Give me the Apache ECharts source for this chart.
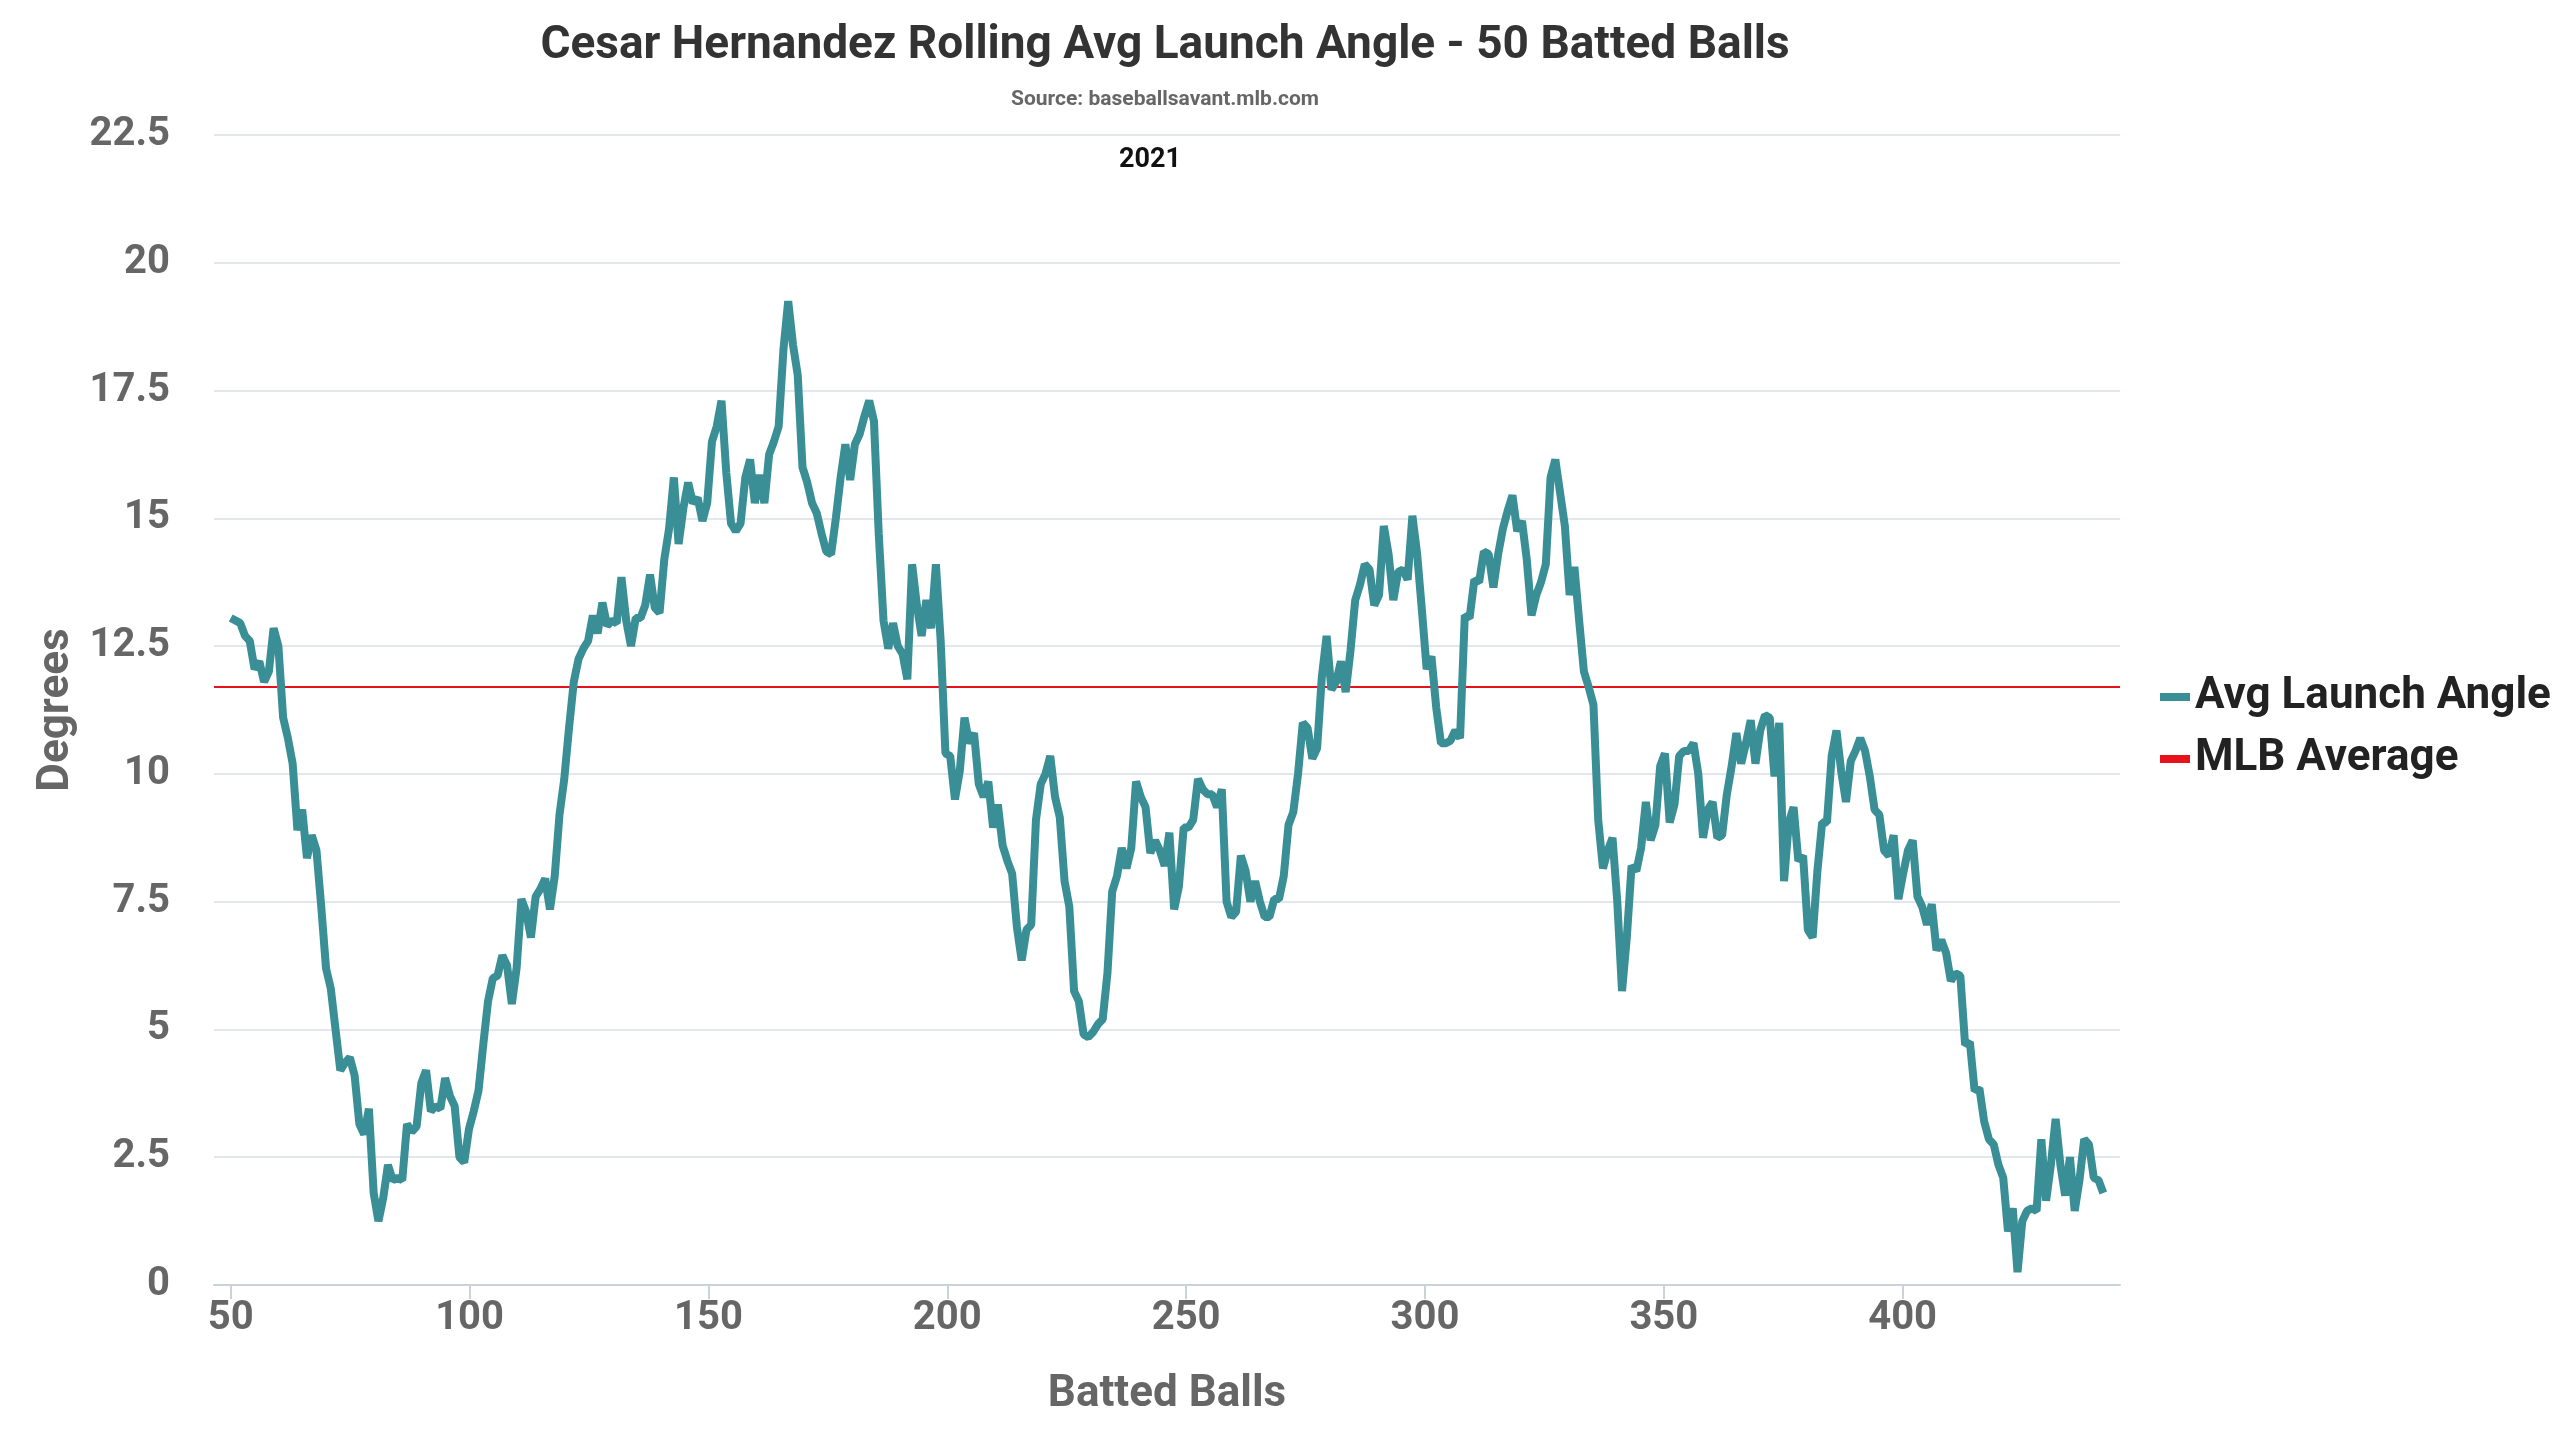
<!DOCTYPE html>
<html><head><meta charset="utf-8">
<script src="https://cdn.jsdelivr.net/npm/echarts@6/dist/echarts.min.js"></script>
<style>html,body{margin:0;padding:0;background:#fff}#c{width:2560px;height:1440px}</style>
</head><body><div id="c"></div>
<script>
const startBall = 50;
const avgLaunchAngle = [
13.05,13.0,12.95,12.7,12.6,12.05,12.2,11.8,12.0,12.85,12.5,11.1,10.7,10.2,8.9,9.3,8.35,8.8,8.5,7.4,
6.2,5.8,5.0,4.2,4.35,4.45,4.1,3.15,2.95,3.45,1.8,1.25,1.7,2.35,2.05,2.1,2.05,3.15,3.0,3.1,
3.95,4.2,3.4,3.5,3.45,4.05,3.7,3.5,2.5,2.4,3.05,3.4,3.8,4.7,5.55,6.0,6.05,6.45,6.25,5.5,
6.2,7.55,7.3,6.8,7.6,7.75,7.95,7.35,8.0,9.2,9.9,10.9,11.8,12.25,12.45,12.6,13.1,12.75,13.35,12.9,
13.0,12.95,13.85,13.0,12.5,13.05,13.05,13.3,13.9,13.25,13.15,14.2,14.8,15.8,14.5,15.2,15.7,15.3,15.4,14.95,
15.3,16.5,16.8,17.3,15.9,14.9,14.75,14.9,15.8,16.15,15.3,15.85,15.3,16.25,16.5,16.8,18.3,19.25,18.4,17.8,
16.0,15.7,15.3,15.1,14.7,14.35,14.3,15.0,15.8,16.45,15.75,16.45,16.65,17.0,17.3,16.9,14.7,13.0,12.45,12.95,
12.5,12.35,11.85,14.1,13.3,12.7,13.4,12.85,14.1,12.6,10.4,10.35,9.5,10.05,11.1,10.6,10.8,9.8,9.55,9.85,
8.95,9.4,8.6,8.3,8.05,7.0,6.35,6.95,7.05,9.1,9.8,10.0,10.35,9.55,9.15,7.9,7.4,5.75,5.55,4.9,
4.85,4.95,5.1,5.2,6.1,7.7,8.0,8.55,8.15,8.55,9.85,9.55,9.35,8.45,8.7,8.5,8.2,8.85,7.35,7.8,
8.95,8.95,9.1,9.9,9.7,9.6,9.6,9.35,9.7,7.5,7.2,7.3,8.4,8.1,7.5,7.9,7.5,7.2,7.2,7.55,
7.55,8.0,9.0,9.25,10.0,11.0,10.9,10.3,10.5,11.9,12.7,11.65,11.8,12.2,11.6,12.4,13.4,13.7,14.1,14.0,
13.3,13.5,14.85,14.3,13.4,13.95,14.0,13.8,15.05,14.3,13.2,12.05,12.3,11.3,10.6,10.6,10.65,10.85,10.7,13.1,
13.05,13.8,13.75,14.35,14.3,13.65,14.3,14.8,15.15,15.45,14.75,14.95,14.2,13.1,13.5,13.75,14.1,15.8,16.15,15.5,
14.85,13.5,14.05,13.0,12.0,11.7,11.35,9.1,8.15,8.5,8.75,7.5,5.75,6.8,8.2,8.1,8.55,9.45,8.7,9.0,
10.15,10.4,9.05,9.4,10.35,10.45,10.45,10.6,10.0,8.75,9.3,9.45,8.75,8.8,9.6,10.15,10.8,10.2,10.6,11.05,
10.2,10.85,11.15,11.1,9.95,11.0,7.9,9.05,9.35,8.3,8.4,6.95,6.8,8.1,9.05,9.05,10.35,10.85,10.05,9.45,
10.25,10.45,10.7,10.45,9.95,9.3,9.2,8.5,8.4,8.8,7.55,8.05,8.5,8.7,7.6,7.4,7.05,7.45,6.55,6.75,
6.5,5.95,6.1,6.05,4.7,4.75,3.8,3.85,3.2,2.85,2.75,2.35,2.1,1.05,1.5,0.25,1.25,1.45,1.5,1.45,
2.85,1.65,2.35,3.25,2.35,1.75,2.5,1.45,2.05,2.85,2.75,2.1,2.05,1.8
];
const mlbAverage = 11.7;
const xTicks = [50,100,150,200,250,300,350,400];
const seasonLabel = '2021';

const lineData = avgLaunchAngle.map((v,i)=>[startBall+i*(392/(avgLaunchAngle.length-1)), v]);
const lastX = lineData[lineData.length-1][0];

const font = "'Liberation Sans Narrow','Roboto',sans-serif";
const chart = echarts.init(document.getElementById('c'));
chart.setOption({
  animation:false,
  title:[{text:'Cesar Hernandez Rolling Avg Launch Angle - 50 Batted Balls',left:1160,textAlign:'center',top:18,
    textStyle:{fontFamily:font,fontSize:46,fontWeight:'bold',color:'#333'}},
    {text:'Source: baseballsavant.mlb.com',left:1160,textAlign:'center',top:84,
    textStyle:{fontFamily:font,fontSize:21,fontWeight:'bold',color:'#666'}},
    {text:seasonLabel,left:1145,textAlign:'center',top:142,
    textStyle:{fontFamily:font,fontSize:27,fontWeight:'bold',color:'#111'}}],
  legend:{orient:'vertical',left:2155,top:670,itemGap:18,itemWidth:30,itemHeight:8,
    textStyle:{fontFamily:font,fontSize:44,fontWeight:'bold',color:'#222'},
    data:[{name:'Avg Launch Angle',icon:'rect'},{name:'MLB Average',icon:'rect'}]},
  grid:{left:214,right:440,top:135,bottom:155,containLabel:false},
  xAxis:{type:'value',min:46.5,max:445.5,name:'Batted Balls',nameLocation:'middle',nameGap:88,
    nameTextStyle:{fontFamily:font,fontSize:44,fontWeight:'bold',color:'#666'},
    axisLine:{lineStyle:{color:'#c8d3dc',width:2}},
    axisTick:{show:true,customValues:xTicks,length:14,lineStyle:{color:'#c8d3dc',width:2}},
    axisLabel:{customValues:xTicks,fontFamily:font,fontSize:40,fontWeight:'bold',color:'#666',margin:14},
    splitLine:{show:false}},
  yAxis:{type:'value',min:0,max:22.5,interval:2.5,name:'Degrees',nameLocation:'middle',nameGap:130,
    nameTextStyle:{fontFamily:font,fontSize:44,fontWeight:'bold',color:'#666'},
    axisLine:{show:false},axisTick:{show:false},
    axisLabel:{fontFamily:font,fontSize:40,fontWeight:'bold',color:'#666',margin:44},
    splitLine:{lineStyle:{color:'#e3e6ea',width:2}}},
  series:[
    {name:'Avg Launch Angle',type:'line',data:lineData,showSymbol:false,
      lineStyle:{color:'#3a8f96',width:8},itemStyle:{color:'#3a8f96'},z:3},
    {name:'MLB Average',type:'line',data:[[46.5,mlbAverage],[445.5,mlbAverage]],showSymbol:false,
      lineStyle:{color:'#e8121a',width:2},itemStyle:{color:'#e8121a'},z:2}
  ]
});
</script></body></html>
